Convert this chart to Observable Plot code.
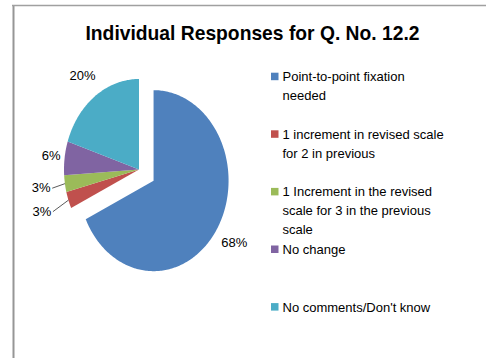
<!DOCTYPE html>
<html><head><meta charset="utf-8">
<script src="https://cdn.jsdelivr.net/npm/d3@7"></script>
<script src="https://cdn.jsdelivr.net/npm/@observablehq/plot@0.6"></script>
<style>html,body{margin:0;padding:0;background:#fff;} svg{display:block;}</style>
</head><body><div id="chart"></div>
<script>
// ---- data ----
const title = "Individual Responses for Q. No. 12.2";
const categories = [
  "Point-to-point fixation needed",
  "1 increment in revised scale for 2 in previous",
  "1 Increment in the revised scale for 3 in the previous scale",
  "No change",
  "No comments/Don't know"
];
const legendLines = [
  "Point-to-point fixation\nneeded",
  "1 increment in revised scale\nfor 2 in previous",
  "1 Increment in the revised\nscale for 3 in the previous\nscale",
  "No change",
  "No comments/Don't know"
];
const values = [68, 3, 3, 6, 20];
const colors = ["#4F81BD", "#C0504D", "#9BBB59", "#8064A2", "#4BACC6"];

// ---- layout ----
const W = 486, H = 358;
const CX = 138.5, CY = 169, RX = 75, RY = 90.5, EXPLODE = 0.23;
const LABEL_R = [1.276, 1.376, 1.32, 1.18, 1.28];
const FONT = "'Liberation Sans', Arial, sans-serif";
const LEG_X = 271, LEG_TEXT_X = 282, LEG_Y0 = 80.7, LEG_STEP = 57.6, LEG_FS = 13, LEG_LH = 1.44, SQ = 7.5;

const rows = categories.map((name, i) => ({name, value: values[i], legend: legendLines[i]}));
const arcs = d3.pie().sort(null).value(d => d.value)(rows);

function P(a, r, d) {
  const m = (d.startAngle + d.endAngle) / 2;
  const e = d.index === 0 ? EXPLODE : 0;
  return {x: CX + RX * (r * Math.sin(a) + e * Math.sin(m)),
          y: CY - RY * (r * Math.cos(a) + e * Math.cos(m))};
}

const slicePts = arcs.flatMap(d => {
  const pts = [P(0, 0, d)];
  const n = Math.max(2, Math.ceil((d.endAngle - d.startAngle) / (Math.PI / 180)));
  for (let k = 0; k <= n; k++) pts.push(P(d.startAngle + (d.endAngle - d.startAngle) * k / n, 1, d));
  return pts.map(p => ({...p, name: d.data.name}));
});

const labels = arcs.map(d => {
  const m = (d.startAngle + d.endAngle) / 2;
  return {...P(m, LABEL_R[d.index], d), text: d.data.value + "%"};
});

const leaders = arcs.filter(d => d.data.value <= 3).map(d => {
  const m = (d.startAngle + d.endAngle) / 2;
  const a = P(m, 1, d), l = P(m, LABEL_R[d.index], d);
  return {x1: a.x, y1: a.y, x2: l.x + 11, y2: l.y};
});

const legendRows = rows.map((r, i) => {
  const base = LEG_Y0 + i * LEG_STEP;
  return {name: r.name, text: r.legend,
          x1: LEG_X, x2: LEG_X + SQ, y1: base - SQ - 0.5, y2: base - 0.5,
          tx: LEG_TEXT_X, ty: base - 0.71 * LEG_LH * LEG_FS};
});

const chart = Plot.plot({
  width: W, height: H, margin: 0,
  style: {background: "#fff", fontFamily: FONT},
  x: {domain: [0, W], range: [0, W], axis: null},
  y: {domain: [0, H], range: [0, H], axis: null},
  color: {domain: categories, range: colors},
  marks: [
    Plot.ruleX([13], {y1: 5, y2: H, stroke: "#969696", strokeWidth: 2}),
    Plot.ruleY([5], {x1: 12, x2: W, stroke: "#a0a0a0", strokeWidth: 1.5}),
    Plot.text([title], {x: 252, y: 39.3, text: d => d, lineAnchor: "bottom", fontSize: 21, fontWeight: "bold", fill: "#000", fontFamily: FONT}),
    Plot.line(slicePts, {x: "x", y: "y", z: "name", fill: "name", stroke: "none", curve: "linear-closed"}),
    Plot.link(leaders, {x1: "x1", y1: "y1", x2: "x2", y2: "y2", stroke: "#303030", strokeWidth: 0.8}),
    Plot.text(labels, {x: "x", y: "y", text: "text", fontSize: 13, fill: "#000", fontFamily: FONT}),
    Plot.rect(legendRows, {x1: "x1", x2: "x2", y1: "y1", y2: "y2", fill: "name"}),
    Plot.text(legendRows, {x: "tx", y: "ty", text: "text", textAnchor: "start", lineAnchor: "top", lineHeight: LEG_LH, fontSize: LEG_FS, fill: "#000", fontFamily: FONT})
  ]
});
document.getElementById("chart").appendChild(chart);
d3.select(chart).selectAll("text").filter(function() { return this.textContent === title; })
  .attr("textLength", 334).attr("lengthAdjust", "spacingAndGlyphs");
</script>
</body></html>
